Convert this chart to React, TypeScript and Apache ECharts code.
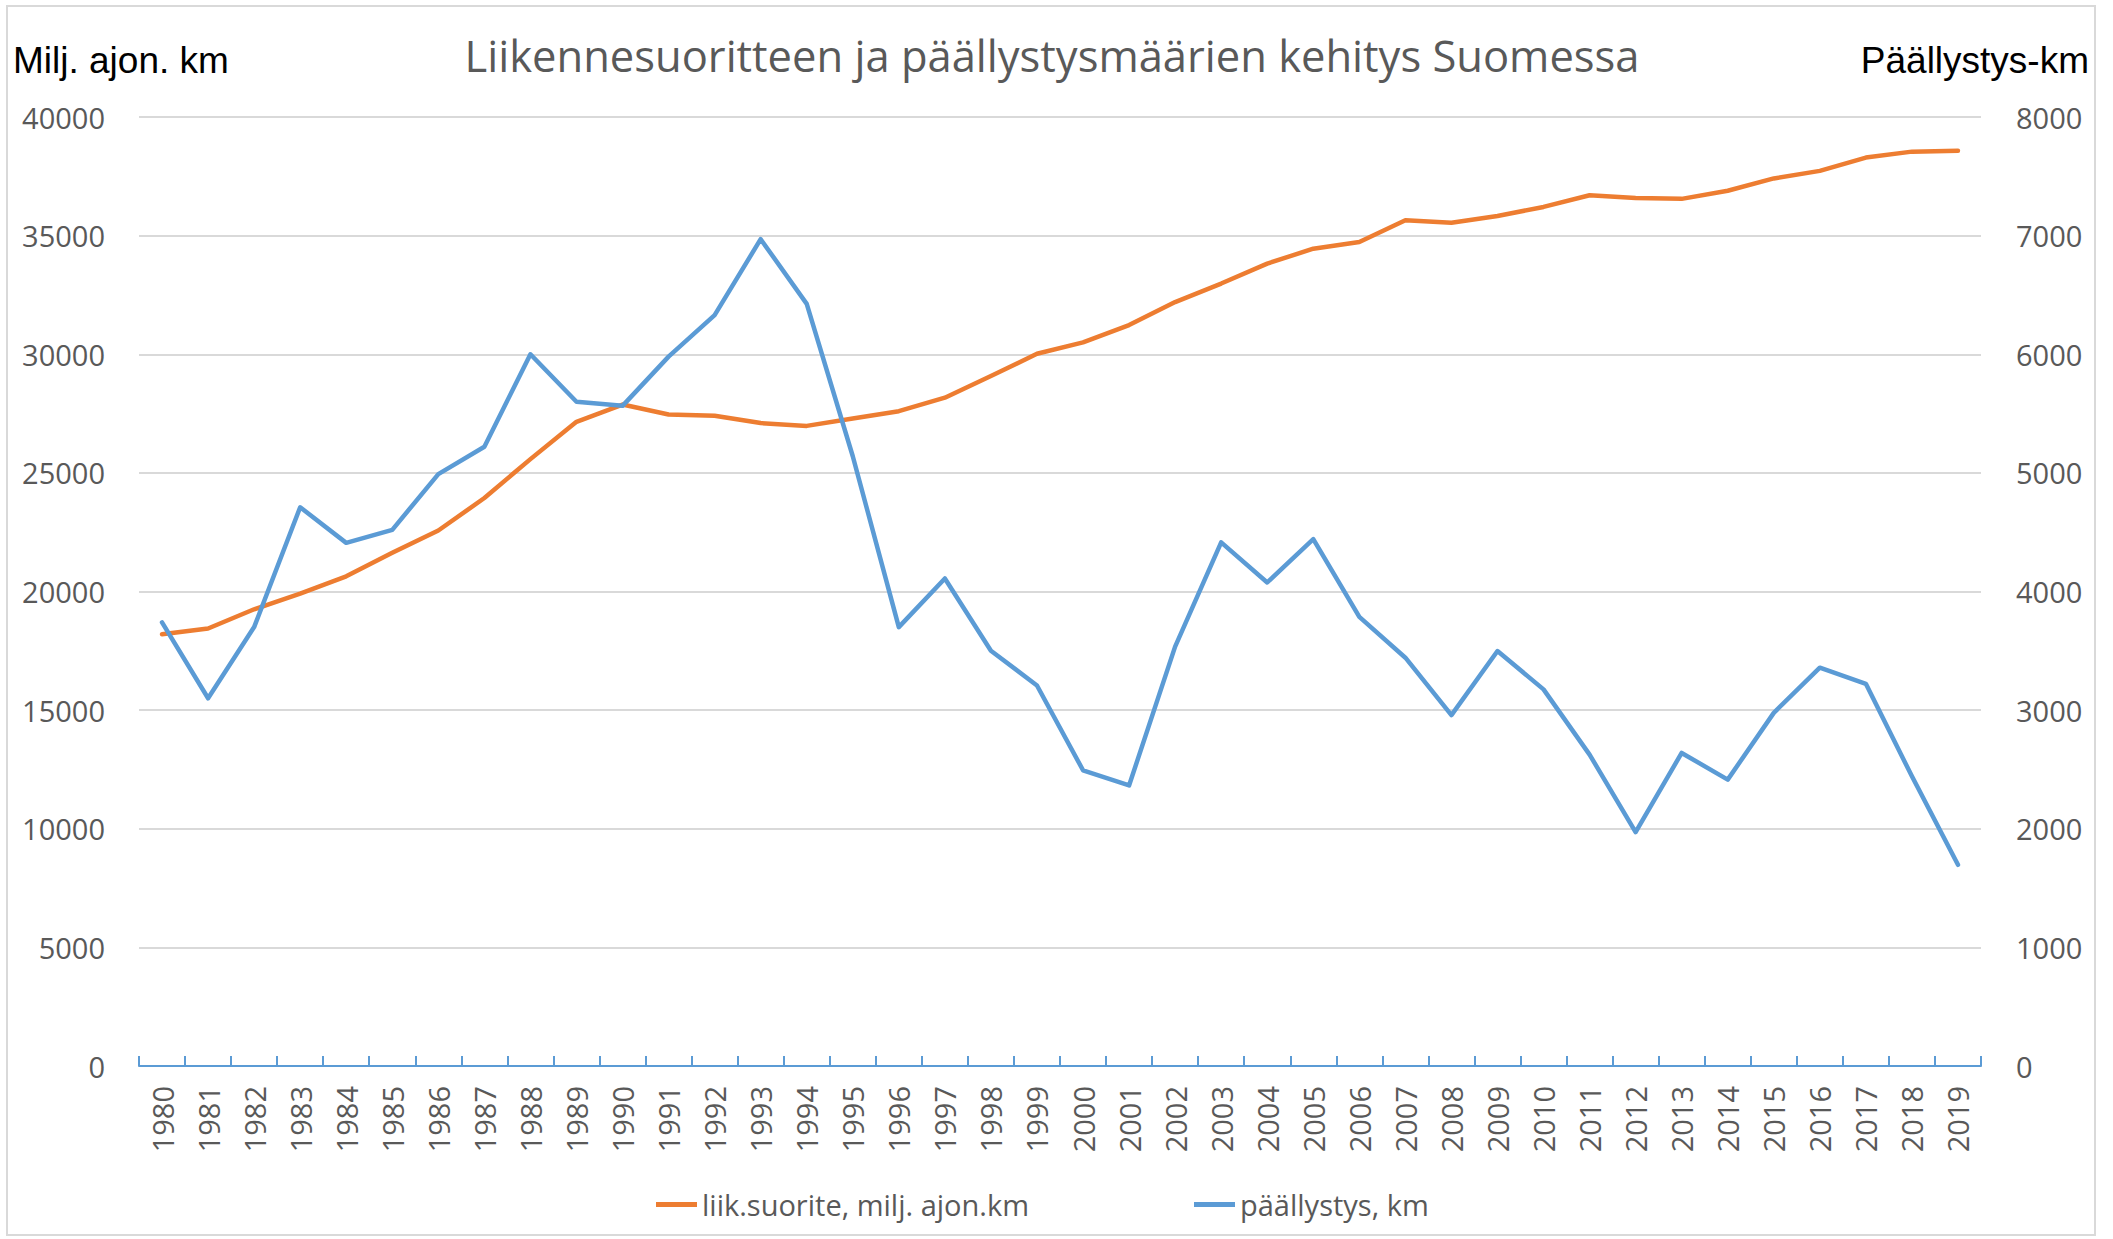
import React, { useEffect, useRef } from "react";
import * as echarts from "echarts";

const years = [
  "1980", "1981", "1982", "1983", "1984", "1985", "1986", "1987", "1988", "1989",
  "1990", "1991", "1992", "1993", "1994", "1995", "1996", "1997", "1998", "1999",
  "2000", "2001", "2002", "2003", "2004", "2005", "2006", "2007", "2008", "2009",
  "2010", "2011", "2012", "2013", "2014", "2015", "2016", "2017", "2018", "2019",
];

const liikSuorite = [
  18200, 18440, 19250, 19910, 20640, 21630, 22570, 23940, 25580, 27150,
  27880, 27460, 27410, 27100, 26980, 27290, 27600, 28170, 29080, 30020,
  30500, 31230, 32200, 32980, 33820, 34450, 34730, 35650, 35540, 35830,
  36210, 36700, 36590, 36550, 36890, 37410, 37730, 38290, 38540, 38580,
];

const paallystys = [
  3740, 3100, 3700, 4710, 4410, 4520, 4990, 5220, 6000, 5600,
  5565, 5980, 6330, 6970, 6425, 5140, 3700, 4110, 3500, 3208,
  2493, 2365, 3535, 4414, 4076, 4442, 3786, 3442, 2958, 3498,
  3175, 2625, 1972, 2639, 2414, 2977, 3358, 3222, 2442, 1696,
];

const seriesNames = ["liik.suorite, milj. ajon.km", "päällystys, km"];
const titleText = "Liikennesuoritteen ja päällystysmäärien kehitys Suomessa";
const leftAxisName = "Milj. ajon. km";
const rightAxisName = "Päällystys-km";

const ORANGE = "#ED7D31";
const BLUE = "#5B9BD5";
const GREY_TEXT = "#595959";
const GRID = "#D9D9D9";
const FONT = '"Open Sans", sans-serif';

const plainNumber = (v: number) => String(v);

export default function App() {
  const ref = useRef<HTMLDivElement>(null);

  useEffect(() => {
    if (!ref.current) return;
    const chart = echarts.init(ref.current, null, { renderer: "svg" });
    const legendCommon = {
      orient: "horizontal",
      itemWidth: 41,
      itemHeight: 5,
      icon: "rect",
      textStyle: { fontFamily: FONT, fontSize: 29, color: GREY_TEXT },
      top: 1190,
      padding: 0,
    };
    chart.setOption({
      animation: false,
      backgroundColor: "#ffffff",
      title: {
        text: titleText,
        left: 1052,
        top: 55,
        textAlign: "center",
        textVerticalAlign: "middle",
        padding: 0,
        textStyle: {
          fontFamily: FONT,
          fontSize: 43.5,
          fontWeight: "normal",
          color: GREY_TEXT,
        },
      },
      legend: [
        { ...legendCommon, left: 656, data: [seriesNames[0]] },
        { ...legendCommon, left: 1194, data: [seriesNames[1]] },
      ],
      grid: { left: 139, right: 132, top: 117, bottom: 173, containLabel: false },
      xAxis: {
        type: "category",
        data: years,
        boundaryGap: true,
        axisLine: { show: true, lineStyle: { color: BLUE, width: 2 } },
        axisTick: { show: true, inside: true, length: 10, lineStyle: { color: BLUE, width: 2 } },
        axisLabel: {
          rotate: 90,
          interval: 0,
          margin: 20,
          fontFamily: FONT,
          fontSize: 29,
          color: GREY_TEXT,
        },
        splitLine: { show: false },
      },
      yAxis: [
        {
          type: "value",
          min: 0,
          max: 40000,
          interval: 5000,
          axisLine: { show: false },
          axisTick: { show: false },
          axisLabel: {
            margin: 34,
            fontFamily: FONT,
            fontSize: 29,
            color: GREY_TEXT,
            formatter: plainNumber,
          },
          splitLine: { show: true, lineStyle: { color: GRID, width: 2 } },
        },
        {
          type: "value",
          min: 0,
          max: 8000,
          interval: 1000,
          position: "right",
          axisLine: { show: false },
          axisTick: { show: false },
          axisLabel: {
            margin: 35,
            fontFamily: FONT,
            fontSize: 29,
            color: GREY_TEXT,
            formatter: plainNumber,
          },
          splitLine: { show: false },
        },
      ],
      graphic: [
        {
          type: "rect",
          shape: { x: 7, y: 6, width: 2088, height: 1229 },
          style: { fill: "none", stroke: GRID, lineWidth: 2 },
          silent: true,
          z: -1,
        },
        {
          type: "text",
          x: 13,
          y: 60,
          style: {
            text: leftAxisName,
            font: '37px "Liberation Sans", Arial, sans-serif',
            fill: "#000000",
            verticalAlign: "middle",
            align: "left",
          },
        },
        {
          type: "text",
          x: 2089,
          y: 60,
          style: {
            text: rightAxisName,
            font: '37px "Liberation Sans", Arial, sans-serif',
            fill: "#000000",
            verticalAlign: "middle",
            align: "right",
          },
        },
      ],
      series: [
        {
          name: seriesNames[0],
          type: "line",
          yAxisIndex: 0,
          data: liikSuorite,
          symbol: "none",
          lineStyle: { color: ORANGE, width: 4.5, cap: "round", join: "round" },
          itemStyle: { color: ORANGE },
        },
        {
          name: seriesNames[1],
          type: "line",
          yAxisIndex: 1,
          data: paallystys,
          symbol: "none",
          lineStyle: { color: BLUE, width: 4.5, cap: "round", join: "round" },
          itemStyle: { color: BLUE },
        },
      ],
    });
    return () => chart.dispose();
  }, []);

  return (
    <div
      ref={ref}
      style={{ position: "fixed", left: 0, top: 0, width: 2113, height: 1239, background: "#fff" }}
    />
  );
}
